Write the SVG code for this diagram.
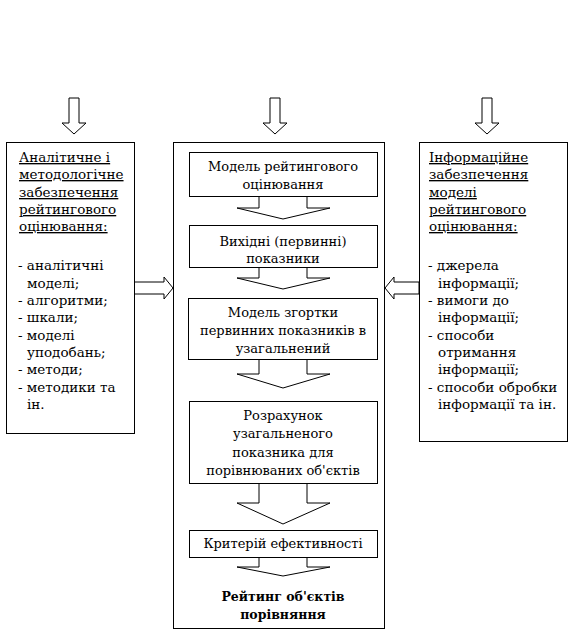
<svg xmlns="http://www.w3.org/2000/svg" width="573" height="641" viewBox="0 0 573 641">
<style>
.b{fill:#fff;stroke:#000;stroke-width:1}
.a{fill:#fff;stroke:#000;stroke-width:1;stroke-linejoin:miter}
text{font-family:'DejaVu Serif',serif;font-size:13.5px;fill:#000}
.c{text-anchor:middle;font-size:13px}
.u{text-decoration:underline}
.bold{font-weight:bold;font-size:12.5px}
</style>
<rect width="573" height="641" fill="#fff"/>
<g id="center">
<rect class="b" x="173.5" y="142.5" width="211" height="486"/>
</g>
<g id="connectors">
<polygon class="a" points="69,98 79,98 79,123 86,123 74,134 62,123 69,123"/>
<polygon class="a" points="270,98 280,98 280,123 287,123 275,134 263,123 270,123"/>
<polygon class="a" points="482,98 492,98 492,123 499,123 487,134 475,123 482,123"/>
<polygon class="a" points="134,282 164,282 164,277 173,288 164,299 164,294 134,294"/>
<polygon class="a" points="419,282 394,282 394,277 385,288 394,299 394,294 419,294"/>
<polygon class="a" points="259,196 307,196 307,208 330,208 283,219 237,208 259,208"/>
<polygon class="a" points="259,267 307,267 307,278 330,278 283,289 237,278 259,278"/>
<polygon class="a" points="259,359 307,359 307,374 330,374 283,388 237,374 259,374"/>
<polygon class="a" points="259,483 307,483 307,503 330,503 283,524 237,503 259,503"/>
<polygon class="a" points="259,557 307,557 307,567 330,567 283,576 237,567 259,567"/>
</g>
<g id="left">
<rect class="b" x="6.5" y="142.5" width="128" height="291"/>
<text class="u" x="19" y="162">Аналітичне і</text>
<text class="u" x="19" y="179">методологічне</text>
<text class="u" x="19" y="197">забезпечення</text>
<text class="u" x="19" y="214">рейтингового</text>
<text class="u" x="19" y="231">оцінювання:</text>
<text x="18" y="270">- аналітичні</text>
<text x="27" y="288">моделі;</text>
<text x="18" y="305">- алгоритми;</text>
<text x="18" y="322">- шкали;</text>
<text x="18" y="340">- моделі</text>
<text x="27" y="357">уподобань;</text>
<text x="18" y="374">- методи;</text>
<text x="18" y="392">- методики та</text>
<text x="27" y="409">ін.</text>
</g>
<g id="n1">
<rect class="b" x="189.5" y="152.5" width="188" height="44"/>
<text class="c" x="283" y="171">Модель рейтингового</text>
<text class="c" x="283" y="189">оцінювання</text>
</g>
<g id="n2">
<rect class="b" x="189.5" y="225.5" width="188" height="42"/>
<text class="c" x="283" y="246">Вихідні (первинні)</text>
<text class="c" x="283" y="263">показники</text>
</g>
<g id="n3">
<rect class="b" x="188.5" y="298.5" width="189" height="61"/>
<text class="c" x="283" y="317">Модель згортки</text>
<text class="c" x="283" y="335">первинних показників в</text>
<text class="c" x="283" y="353">узагальнений</text>
</g>
<g id="n4">
<rect class="b" x="189.5" y="401.5" width="188" height="82"/>
<text class="c" x="283" y="420">Розрахунок</text>
<text class="c" x="283" y="438">узагальненого</text>
<text class="c" x="283" y="457">показника для</text>
<text class="c" x="283" y="475">порівнюваних об'єктів</text>
</g>
<g id="n5">
<rect class="b" x="189.5" y="530.5" width="188" height="27"/>
<text class="c" x="283" y="548">Критерій ефективності</text>
</g>
<g id="result">
<text class="c bold" x="283" y="601">Рейтинг об'єктів</text>
<text class="c bold" x="283" y="619">порівняння</text>
</g>
<g id="right">
<rect class="b" x="419.5" y="142.5" width="148" height="299"/>
<text class="u" x="429" y="162">Інформаційне</text>
<text class="u" x="429" y="179">забезпечення</text>
<text class="u" x="429" y="197">моделі</text>
<text class="u" x="429" y="214">рейтингового</text>
<text class="u" x="429" y="231">оцінювання:</text>
<text x="428" y="270">- джерела</text>
<text x="438" y="288">інформації;</text>
<text x="428" y="305">- вимоги до</text>
<text x="438" y="322">інформації;</text>
<text x="428" y="340">- способи</text>
<text x="438" y="357">отримання</text>
<text x="438" y="374">інформації;</text>
<text x="428" y="392">- способи обробки</text>
<text x="438" y="409">інформації та ін.</text>
</g>
</svg>
